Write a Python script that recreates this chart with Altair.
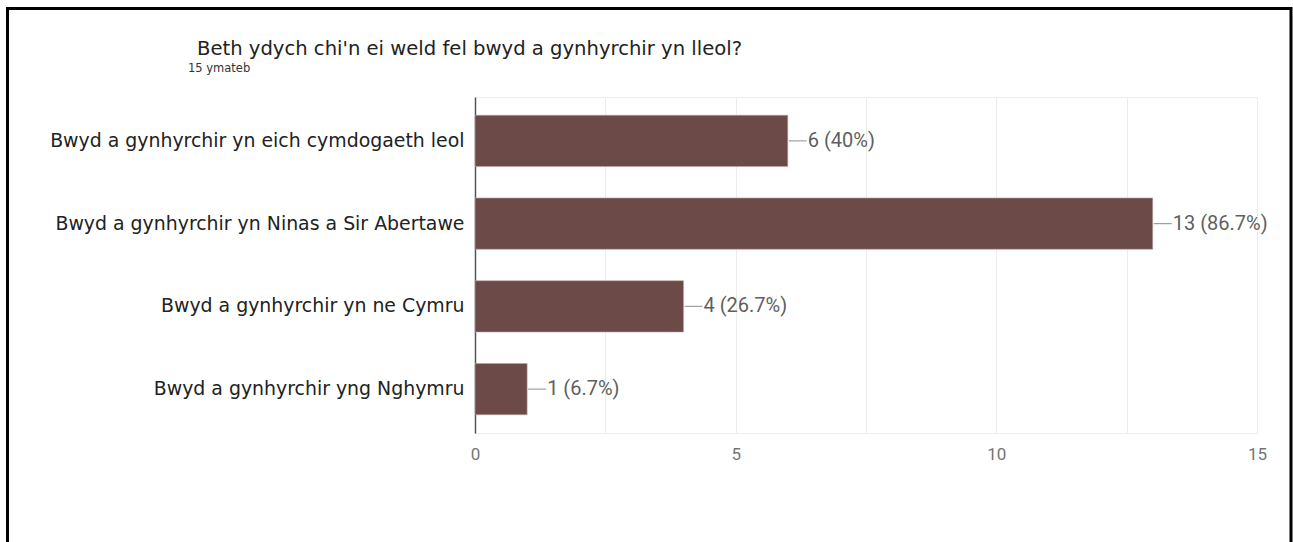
import altair as alt
import pandas as pd

categories = [
    "Bwyd a gynhyrchir yn eich cymdogaeth leol",
    "Bwyd a gynhyrchir yn Ninas a Sir Abertawe",
    "Bwyd a gynhyrchir yn ne Cymru\u00a0",
    "Bwyd a gynhyrchir yng Nghymru",
]
counts = [6, 13, 4, 1]
labels = ["6 (40%)", "13 (86.7%)", "4 (26.7%)", "1 (6.7%)"]
title_text = "Beth ydych chi'n ei weld fel bwyd a gynhyrchir yn lleol?"
subtitle_text = "15 ymateb"
x_ticks = [0, 2.5, 5, 7.5, 10, 12.5, 15]

df = pd.DataFrame({"cat": categories, "count": counts, "label": labels})

W, H = 782, 336
BAR = "#6b4a47"
LABEL_FONT = "DejaVu Sans"

y_enc = alt.Y(
    "cat:N",
    sort=categories,
    title=None,
    scale=alt.Scale(paddingInner=0.38, paddingOuter=0.22),
    axis=alt.Axis(
        labelFont=LABEL_FONT,
        labelFontSize=18.9,
        labelColor="#222222",
        labelPadding=11,
        labelLimit=600,
        ticks=False,
        domain=True,
        domainColor="#555555",
        domainWidth=1.5,
        grid=False,
    ),
)
x_enc = alt.X(
    "count:Q",
    title=None,
    scale=alt.Scale(domain=[0, 15], nice=False),
    axis=alt.Axis(
        values=x_ticks,
        labelExpr="datum.value % 5 == 0 ? datum.label : ''",
        labelFont="Roboto",
        labelFontSize=17,
        labelColor="#757575",
        labelPadding=13,
        labelFlush=False,
        ticks=False,
        domain=False,
        grid=True,
        gridColor="#ececec",
        gridWidth=1,
    ),
)

base = alt.Chart(df)
bars = base.mark_bar(color=BAR, stroke="#b9a7a5", strokeWidth=0.6).encode(y=y_enc, x=x_enc)
connectors = base.mark_rule(color="#a0a0a0", strokeWidth=1.2, xOffset=1, x2Offset=19).encode(
    y=alt.Y("cat:N", sort=categories, bandPosition=0.5),
    x="count:Q",
    x2="count:Q",
)
texts = base.mark_text(
    align="left", baseline="middle", dx=20, font="Roboto", fontSize=20, color="#5f5f5f"
).encode(y=alt.Y("cat:N", sort=categories), x="count:Q", text="label:N")

one = pd.DataFrame({"t": [title_text], "s": [subtitle_text]})
title_mark = alt.Chart(one).mark_text(
    align="left", baseline="alphabetic", font=LABEL_FONT, fontSize=19.6, color="#222222"
).encode(text="t:N", x=alt.value(-278), y=alt.value(-42))
subtitle_mark = alt.Chart(one).mark_text(
    align="left", baseline="alphabetic", font=LABEL_FONT, fontSize=11.5, color="#333333"
).encode(text="s:N", x=alt.value(-287), y=alt.value(-25))
border = alt.Chart(one).mark_rect(fill=None, stroke="black", strokeWidth=3).encode(
    x=alt.value(-467.5), x2=alt.value(816), y=alt.value(-88.5), y2=alt.value(470)
)

chart = (
    alt.layer(bars, connectors, texts, title_mark, subtitle_mark, border)
    .properties(
        width=W,
        height=H,
        autosize=alt.AutoSizeParams(type="none"),
        padding={"left": 475, "top": 97, "right": 36, "bottom": 109},
        background="white",
    )
    .configure_view(stroke="#ececec", strokeWidth=1)
)

chart.save("out.html", embed_options={"renderer": "svg", "actions": False})
